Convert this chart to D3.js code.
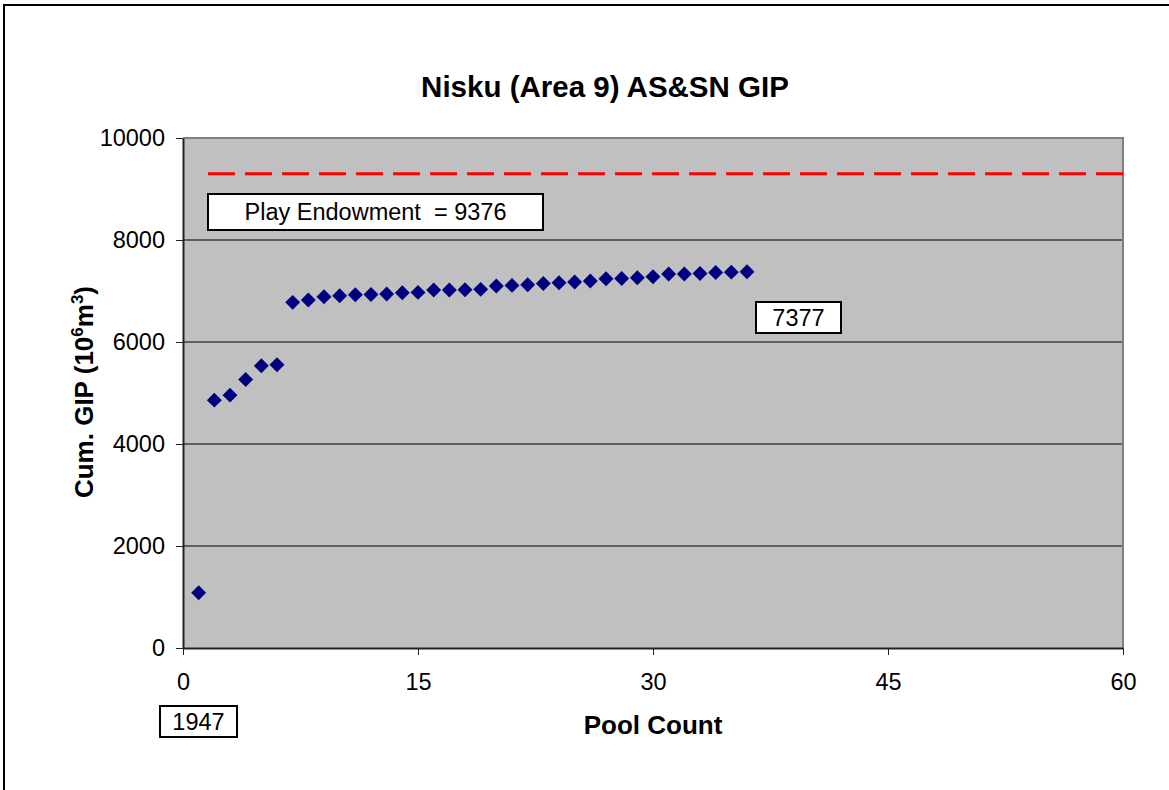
<!DOCTYPE html>
<html>
<head>
<meta charset="utf-8">
<script src="https://cdn.jsdelivr.net/npm/d3@7"></script>
<style>
  html, body { margin: 0; padding: 0; background: #fff; }
  svg { display: block; font-family: "Liberation Sans", Arial, sans-serif; }
</style>
</head>
<body>
<div id="wrapper"></div>
<script>
const TITLE = "Nisku (Area 9) AS&SN GIP";
const X_LABEL = "Pool Count";
// pool count vs cumulative GIP (10^6 m3)
const poolCount = [1, 2, 3, 4, 5, 6, 7, 8, 9, 10, 11, 12, 13, 14, 15, 16, 17, 18,
  19, 20, 21, 22, 23, 24, 25, 26, 27, 28, 29, 30, 31, 32, 33, 34, 35, 36];
const cumGIP = [1085, 4860, 4958, 5266, 5533, 5553, 6777, 6822, 6887, 6906, 6926, 6933,
  6940, 6965, 6973, 7018, 7018, 7024, 7032, 7096, 7110, 7122, 7149, 7162, 7175, 7194,
  7240, 7245, 7260, 7279, 7332, 7335, 7345, 7362, 7370, 7377];
const endowmentLine = 9300;
const endowmentText = "Play Endowment  = 9376";
const lastText = "7377";
const startText = "1947";
const xTicks = [0, 15, 30, 45, 60];
const yTicks = [0, 2000, 4000, 6000, 8000, 10000];

const data = poolCount.map((p, i) => ({ x: p, y: cumGIP[i] }));

const dimensions = {
  width: 1169,
  height: 790,
  margin: { top: 138, right: 46, bottom: 142, left: 183 }
};
dimensions.boundedWidth = dimensions.width - dimensions.margin.left - dimensions.margin.right;
dimensions.boundedHeight = dimensions.height - dimensions.margin.top - dimensions.margin.bottom;

const wrapper = d3.select("#wrapper")
  .append("svg")
  .attr("width", dimensions.width)
  .attr("height", dimensions.height);

// outer frame, runs off right and bottom edge
wrapper.append("rect")
  .attr("x", 4).attr("y", 5)
  .attr("width", 1200).attr("height", 900)
  .attr("fill", "none")
  .attr("stroke", "#000")
  .attr("stroke-width", 2);

const bounds = wrapper.append("g")
  .attr("transform", `translate(${dimensions.margin.left},${dimensions.margin.top})`);

const xScale = d3.scaleLinear()
  .domain([0, 60])
  .range([0, dimensions.boundedWidth]);

const yScale = d3.scaleLinear()
  .domain([0, 10000])
  .range([dimensions.boundedHeight, 0]);

// plot area
bounds.append("rect")
  .attr("width", dimensions.boundedWidth)
  .attr("height", dimensions.boundedHeight)
  .attr("fill", "#c0c0c0");

// gridlines
bounds.selectAll(".grid")
  .data(yTicks.filter(d => d > 0 && d < 10000))
  .join("line")
  .attr("x1", 0).attr("x2", dimensions.boundedWidth)
  .attr("y1", d => yScale(d)).attr("y2", d => yScale(d))
  .attr("stroke", "#000")
  .attr("stroke-width", 1);

// gray border top + right
bounds.append("path")
  .attr("d", `M0,0H${dimensions.boundedWidth}V${dimensions.boundedHeight}`)
  .attr("fill", "none")
  .attr("stroke", "#808080")
  .attr("stroke-width", 2);

// endowment dashed line
bounds.append("line")
  .attr("x1", xScale(1.6)).attr("x2", dimensions.boundedWidth)
  .attr("y1", yScale(endowmentLine)).attr("y2", yScale(endowmentLine))
  .attr("stroke", "#ff0000")
  .attr("stroke-width", 3)
  .attr("stroke-dasharray", "27 10");

// axes
const fmt = d3.format("d");
const xAxis = bounds.append("g")
  .attr("transform", `translate(0,${dimensions.boundedHeight})`)
  .call(d3.axisBottom(xScale).tickValues(xTicks).tickFormat(fmt)
    .tickSize(7).tickPadding(18).tickSizeOuter(0));

const yAxis = bounds.append("g")
  .call(d3.axisLeft(yScale).tickValues(yTicks).tickFormat(fmt)
    .tickSize(7).tickPadding(11).tickSizeOuter(0));

[xAxis, yAxis].forEach(ax => {
  ax.select(".domain").attr("stroke", "#222").attr("stroke-width", 2);
  ax.selectAll(".tick line").attr("stroke", "#222");
  ax.selectAll(".tick text")
    .attr("fill", "#000")
    .style("font-size", "23.5px")
    .style("font-family", "'Liberation Sans', Arial, sans-serif");
});

// markers
const diamond = d3.symbol(d3.symbolSquare).size(112);
bounds.selectAll(".dot")
  .data(data)
  .join("path")
  .attr("class", "dot")
  .attr("d", diamond)
  .attr("transform", d => `translate(${xScale(d.x)},${yScale(d.y)}) rotate(45)`)
  .attr("fill", "#000080");

// label boxes
function labelBox(x, y, w, h, text) {
  const g = wrapper.append("g");
  g.append("rect")
    .attr("x", x).attr("y", y).attr("width", w).attr("height", h)
    .attr("fill", "#fff").attr("stroke", "#000").attr("stroke-width", 2);
  g.append("text")
    .attr("x", x + w / 2).attr("y", y + h / 2)
    .attr("dy", "0.36em")
    .attr("text-anchor", "middle")
    .style("font-size", "23.5px")
    .style("white-space", "pre")
    .text(text);
}
labelBox(208, 194, 335, 36, endowmentText);
labelBox(756, 302, 85, 31, lastText);
labelBox(160, 706, 77, 31, startText);

// title
wrapper.append("text")
  .attr("x", 605).attr("y", 97)
  .attr("text-anchor", "middle")
  .style("font-size", "29.5px")
  .style("font-weight", "bold")
  .text(TITLE);

// x label
wrapper.append("text")
  .attr("x", 653).attr("y", 734)
  .attr("text-anchor", "middle")
  .style("font-size", "26px")
  .style("font-weight", "bold")
  .text(X_LABEL);

// y label with superscripts
const yLabel = wrapper.append("text")
  .attr("transform", "translate(93,392) rotate(-90)")
  .attr("text-anchor", "middle")
  .style("font-size", "26px")
  .style("font-weight", "bold");
yLabel.append("tspan").text("Cum. GIP (10");
yLabel.append("tspan").attr("dy", -10).style("font-size", "17px").text("6");
yLabel.append("tspan").attr("dy", 10).text("m");
yLabel.append("tspan").attr("dy", -10).style("font-size", "17px").text("3");
yLabel.append("tspan").attr("dy", 10).text(")");
</script>
</body>
</html>
